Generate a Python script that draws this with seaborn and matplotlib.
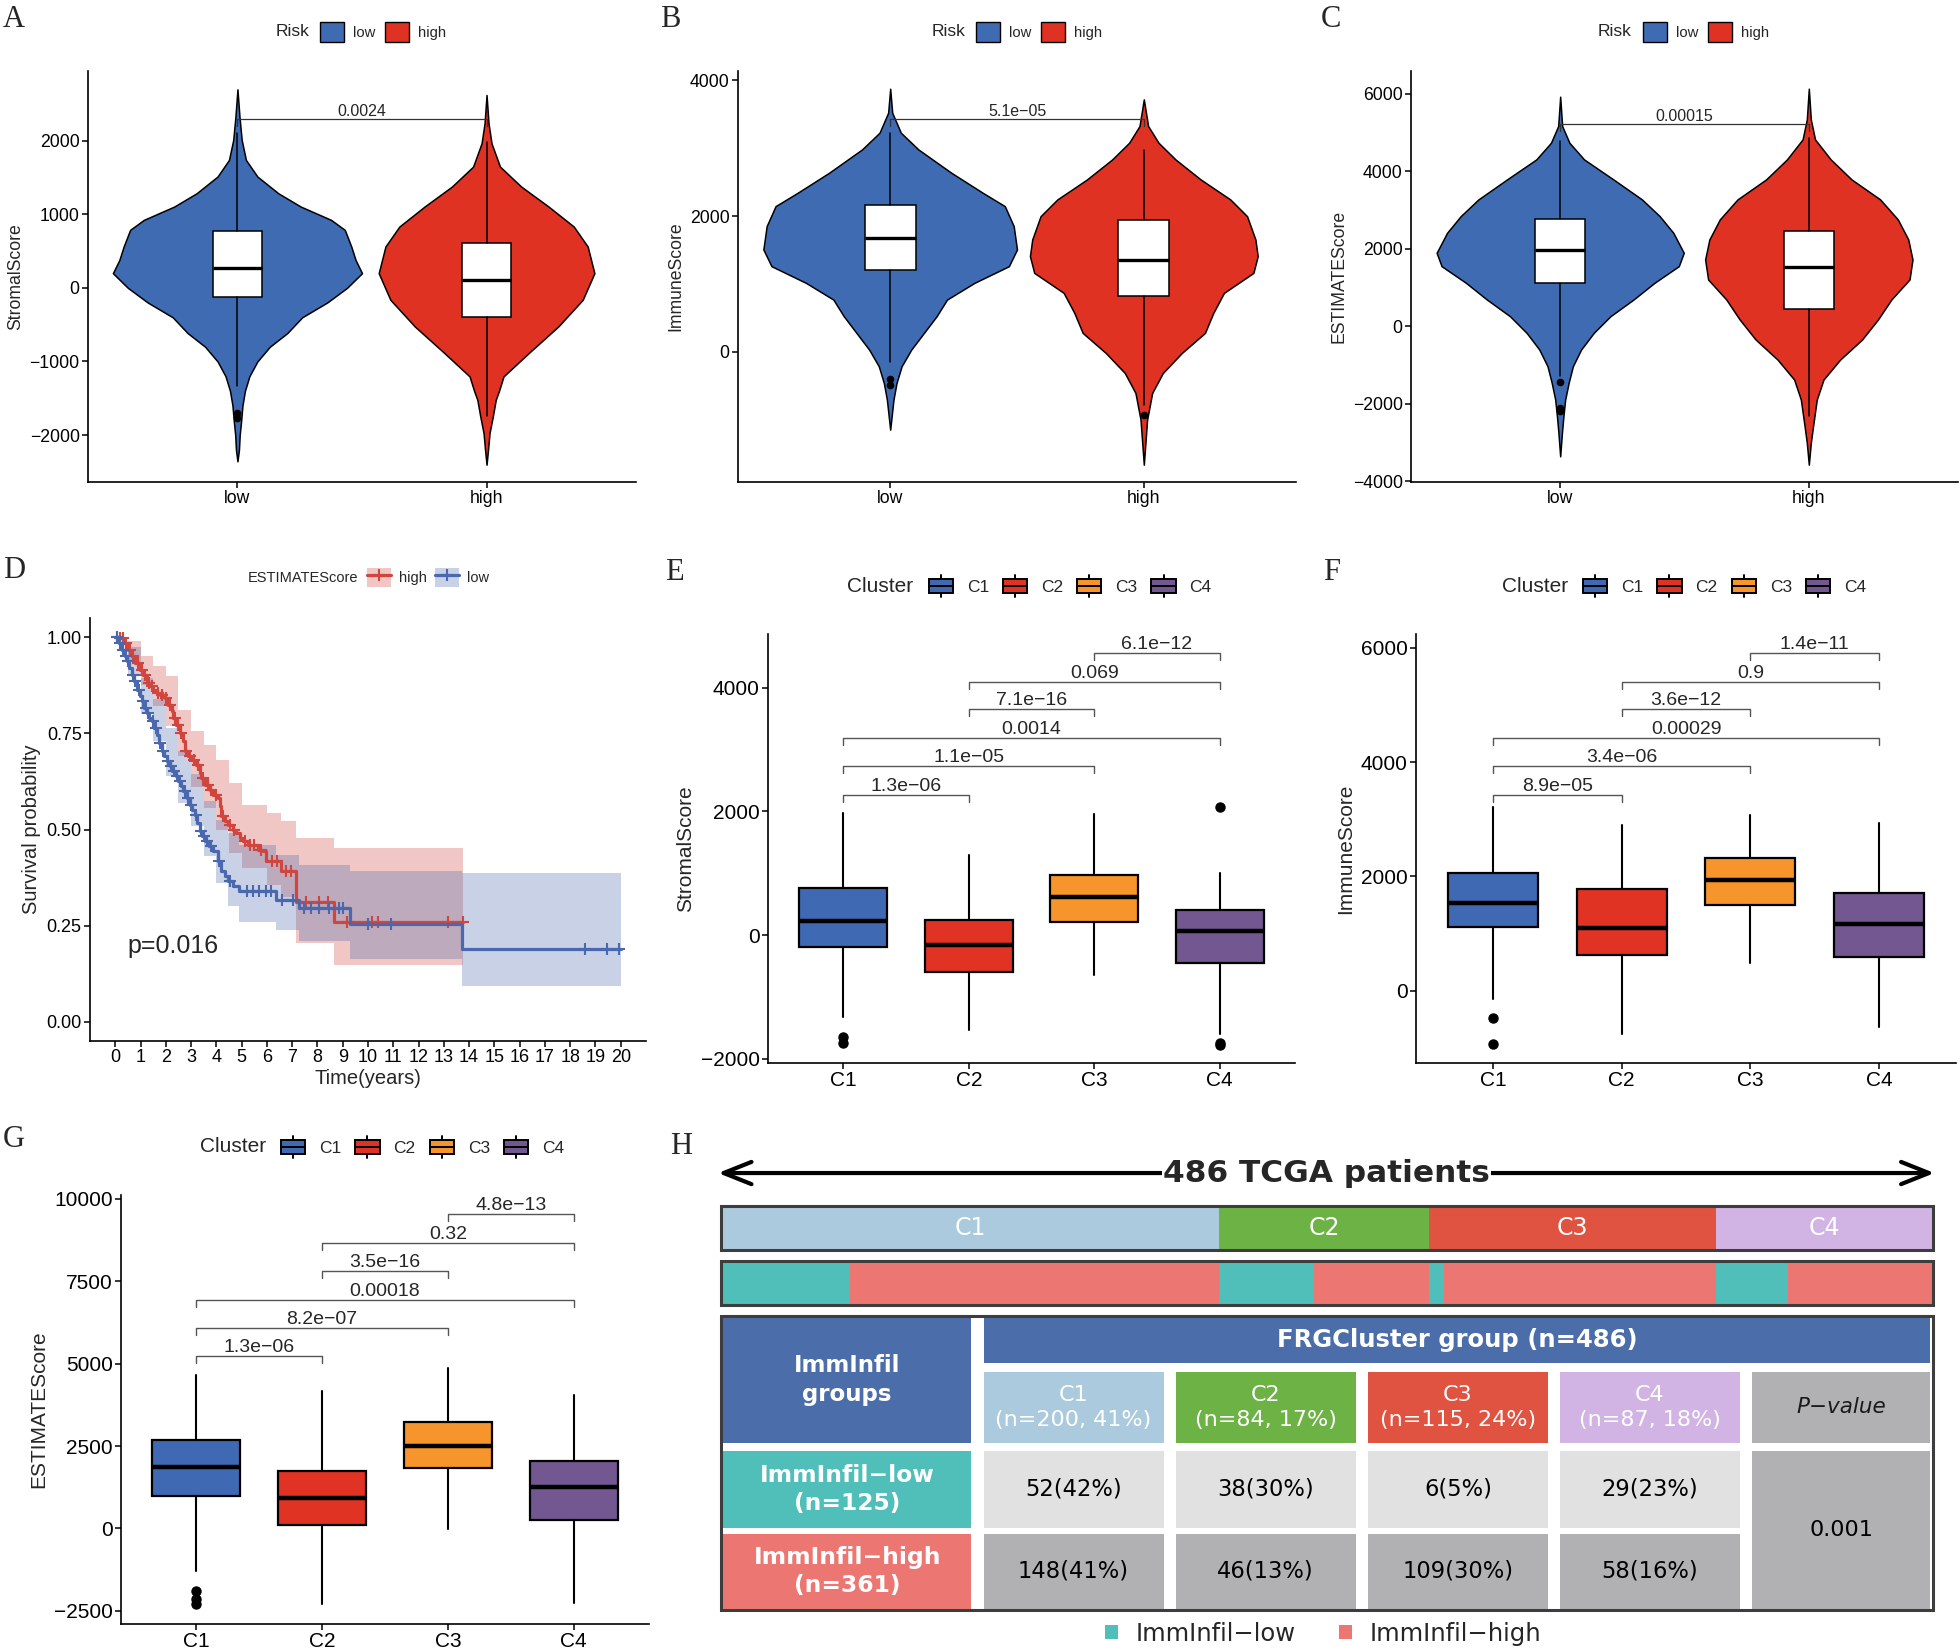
import numpy as np
import matplotlib
matplotlib.use('Agg')
import matplotlib.pyplot as plt
import seaborn as sns
from matplotlib.patches import Patch, Rectangle
from matplotlib.lines import Line2D
from matplotlib.legend_handler import HandlerBase, HandlerTuple

###########################################################################################
# data

# panels A-C: violin outlines (score, half width in category units) and box summaries
risk_groups = ['low', 'high']

stromal_low_y = [2697, 2330, 2009, 1738, 1512, 1285, 1104, 923, 787, 560, 380, 199, 0, -200, -400,
                 -615, -800, -1000, -1200, -1400, -1600, -1800, -2000, -2200, -2357]
stromal_low_w = [0, .008, .017, .034, .08, .164, .254, .376, .431, .457, .474, .5, .44, .36, .26,
                 .2, .13, .08, .048, .03, .02, .015, .009, .006, 0]
stromal_high_y = [2620, 2235, 1964, 1647, 1376, 1104, 833, 561, 199, -163, -525, -887, -1204, -1400,
                  -1521, -1750, -1973, -2200, -2403]
stromal_high_w = [0, .008, .02, .054, .139, .249, .35, .406, .433, .386, .288, .169, .068, .05,
                  .037, .025, .012, .006, 0]

immune_low_y = [3877, 3523, 3229, 2983, 2639, 2344, 2147, 1853, 1509, 1263, 1017, 771, 526, 280, 34,
                -211, -457, -703, -1145]
immune_low_w = [0, .008, .042, .111, .241, .365, .452, .487, .5, .468, .332, .224, .183, .133, .083,
                .045, .025, .013, 0]
immune_high_y = [3720, 3327, 3081, 2835, 2541, 2246, 2000, 1656, 1410, 1164, 870, 575, 280, -15,
                 -310, -604, -997, -1661]
immune_high_w = [0, .017, .058, .125, .224, .341, .407, .44, .449, .432, .316, .274, .241, .15,
                 .075, .033, .013, 0]

estimate_low_y = [5922, 5165, 4734, 4304, 3787, 3271, 2841, 2410, 1894, 1549, 1119, 689, 258, -172,
                  -603, -1033, -1463, -1894, -2324, -2755, -3357]
estimate_low_w = [0, .008, .037, .096, .214, .329, .4, .455, .497, .477, .379, .295, .202, .135,
                  .084, .051, .034, .02, .013, .007, 0]
estimate_high_y = [6129, 5337, 4820, 4304, 3787, 3271, 2755, 2238, 1721, 1205, 689, 172, -344, -861,
                   -1377, -1894, -2582, -3013, -3572]
estimate_high_w = [0, .008, .025, .088, .172, .287, .358, .4, .417, .405, .332, .278, .214, .126,
                   .059, .032, .017, .008, 0]

# [whisker low, q1, median, q3, whisker high]
stromal_low_box = [-1339, -118, 276, 778, 2100]
stromal_low_out = [-1701, -1769]
stromal_high_box = [-1747, -403, 109, 606, 1986]
stromal_high_out = []
immune_low_box = [-152, 1204, 1671, 2162, 3219]
immune_low_out = [-393, -491]
immune_high_box = [-776, 821, 1351, 1936, 2973]
immune_high_out = [-934]
estimate_low_box = [-1291, 1102, 1963, 2755, 4777]
estimate_low_out = [-1438, -2109, -2195]
estimate_high_box = [-2307, 448, 1515, 2453, 4863]
estimate_high_out = []

risk_pvals = ['0.0024', '5.1e\u221205', '0.00015']
risk_pval_y = [2290, 3435, 5225]

# panel D: Kaplan-Meier steps, confidence bands and censor times
high_time = [0, 0.13, 0.33, 0.52, 0.66, 0.79, 0.98, 1.11, 1.25, 1.38, 1.51, 1.64, 1.77, 1.97, 2.10,
             2.23, 2.29, 2.42, 2.56, 2.69, 2.75, 2.88, 3.01, 3.21, 3.34, 3.41, 3.54, 3.74, 3.87, 4.06,
             4.13, 4.19, 4.33, 4.46, 4.65, 4.78, 4.92, 5.05, 5.24, 5.64, 5.83, 5.96, 6.55, 7.14, 8.65,
             13.75]
high_surv = [1.0, 0.998, 0.985, 0.968, 0.950, 0.933, 0.916, 0.903, 0.881, 0.872, 0.864, 0.855, 0.851,
             0.842, 0.825, 0.807, 0.790, 0.773, 0.751, 0.729, 0.703, 0.690, 0.681, 0.668, 0.647, 0.634,
             0.616, 0.603, 0.590, 0.582, 0.560, 0.534, 0.521, 0.512, 0.499, 0.490, 0.477, 0.469, 0.460,
             0.447, 0.443, 0.417, 0.391, 0.3125, 0.260, 0.260]
low_time = [0, 0.13, 0.26, 0.37, 0.46, 0.56, 0.66, 0.76, 0.85, 0.96, 1.05, 1.15, 1.25, 1.35, 1.44,
            1.55, 1.64, 1.73, 1.83, 1.94, 2.03, 2.16, 2.25, 2.39, 2.49, 2.59, 2.69, 2.82, 2.95, 3.04,
            3.15, 3.25, 3.34, 3.43, 3.54, 3.70, 3.87, 4.06, 4.19, 4.33, 4.46, 4.65, 4.91, 6.36, 7.27,
            9.28, 13.71, 20.0]
low_surv = [1.0, 0.985, 0.968, 0.951, 0.938, 0.920, 0.903, 0.885, 0.864, 0.846, 0.833, 0.816, 0.803,
            0.790, 0.781, 0.764, 0.747, 0.725, 0.703, 0.690, 0.677, 0.664, 0.651, 0.638, 0.625, 0.612,
            0.599, 0.582, 0.564, 0.551, 0.538, 0.516, 0.495, 0.482, 0.469, 0.456, 0.443, 0.417, 0.391,
            0.378, 0.365, 0.352, 0.339, 0.317, 0.297, 0.253, 0.190, 0.190]
high_band_time = [0, 0.5, 1.0, 1.5, 2.0, 2.5, 3.0, 3.5, 4.0, 4.5, 5.0, 6.0, 6.55, 7.14, 8.65, 13.75]
high_band_lo = [1.0, 0.935, 0.875, 0.82, 0.77, 0.69, 0.61, 0.555, 0.5, 0.44, 0.4, 0.355, 0.325, 0.205,
                0.148, 0.148]
high_band_hi = [1.0, 0.99, 0.95, 0.925, 0.9, 0.81, 0.755, 0.72, 0.68, 0.62, 0.565, 0.543, 0.521, 0.477,
                0.451, 0.451]
low_band_time = [0, 0.5, 1.0, 1.5, 2.0, 2.5, 3.0, 3.5, 4.0, 4.46, 4.91, 6.36, 7.27, 9.28, 13.71, 20.0]
low_band_lo = [1.0, 0.9, 0.8, 0.73, 0.64, 0.57, 0.51, 0.43, 0.36, 0.3, 0.26, 0.239, 0.21, 0.162, 0.094,
               0.094]
low_band_hi = [1.0, 0.975, 0.895, 0.84, 0.765, 0.705, 0.645, 0.575, 0.525, 0.49, 0.46, 0.434, 0.408,
               0.393, 0.387, 0.387]
high_censor = [0.08, 0.2, 0.3, 0.42, 0.6, 0.72, 0.88, 1.05, 1.18, 1.32, 1.45, 1.7, 1.85, 2.0, 2.15,
               2.35, 2.5, 2.62, 2.8, 2.95, 3.1, 3.28, 3.48, 3.65, 3.8, 4.0, 4.25, 4.55, 4.7, 5.15, 5.35,
               5.5, 5.75, 6.2, 6.4, 6.75, 6.95, 7.55, 8.05, 8.4, 9.15, 10.14, 10.38, 13.15, 13.75]
low_censor = [0.05, 0.18, 0.32, 0.42, 0.52, 0.7, 0.8, 0.92, 1.1, 1.2, 1.3, 1.5, 1.6, 1.78, 1.9, 2.08,
              2.2, 2.32, 2.45, 2.55, 2.75, 2.88, 3.0, 3.2, 3.38, 3.5, 3.62, 3.8, 4.1, 4.55, 5.2, 5.45,
              5.7, 5.95, 6.15, 6.6, 7.05, 7.45, 7.75, 8.05, 8.45, 8.85, 9.0, 10.0, 10.9, 18.6, 19.47,
              19.95]
km_pvalue = 'p=0.016'

# panels E-G: cluster boxplots
cluster_names = ['C1', 'C2', 'C3', 'C4']
stromal_cluster_box = [[-1330, -190, 230, 768, 1980], [-1541, -589, -156, 242, 1300],
                       [-652, 214, 618, 975, 1962], [-1600, -444, 58, 398, 1010]]
stromal_cluster_out = [[-1645, -1750], [], [], [2078, -1740, -1780]]
immune_cluster_box = [[-144, 1113, 1531, 2063, 3219], [-750, 625, 1094, 1775, 2906],
                      [488, 1500, 1938, 2325, 3081], [-638, 588, 1175, 1719, 2938]]
immune_cluster_out = [[-481, -925], [], [], []]
estimate_cluster_box = [[-1297, 973, 1851, 2699, 4665], [-2291, 115, 910, 1747, 4174],
                        [-10, 1841, 2500, 3232, 4874], [-2270, 262, 1245, 2061, 4038]]
estimate_cluster_out = [[-1893, -2134, -2291], [], [], []]

bracket_pairs = [(0, 1), (0, 2), (0, 3), (1, 2), (1, 3), (2, 3)]
stromal_brk_y = [2268, 2730, 3186, 3648, 4098, 4560]
stromal_brk_p = ['1.3e\u221206', '1.1e\u221205', '0.0014', '7.1e\u221216', '0.069', '6.1e\u221212']
immune_brk_y = [3425, 3925, 4419, 4919, 5406, 5906]
immune_brk_p = ['8.9e\u221205', '3.4e\u221206', '0.00029', '3.6e\u221212', '0.9', '1.4e\u221211']
estimate_brk_y = [5220, 6077, 6935, 7803, 8661, 9540]
estimate_brk_p = ['1.3e\u221206', '8.2e\u221207', '0.00018', '3.5e\u221216', '0.32', '4.8e\u221213']

# panel H: cluster x immune infiltration table
cluster_n = [200, 84, 115, 87]
cluster_pct = [41, 17, 24, 18]
imm_low_n = [52, 38, 6, 29]
imm_low_pct = [42, 30, 5, 23]
imm_high_n = [148, 46, 109, 58]
imm_high_pct = [41, 13, 30, 16]
imm_low_total = 125
imm_high_total = 361
table_pvalue = '0.001'

###########################################################################################
# styles

risk_colors = ['#3F6BB3', '#E03222']
km_colors = {'high': '#D0463F', 'low': '#4A68AD'}
cluster_colors = ['#3F6AB3', '#E03323', '#F6952B', '#735790']
strip_colors = ['#ABCADD', '#6CB245', '#E05340', '#D2B4E4']
teal, salmon = '#50BEB9', '#EC7772'
head_blue = '#4B6DAA'
light_gray, mid_gray = '#E1E1E1', '#B1B0B2'

W, H = 1960, 1652

sns.set_theme(style='ticks')
plt.rcParams['font.family'] = ['Liberation Sans', 'DejaVu Sans']
plt.rcParams['axes.unicode_minus'] = True


def rect(x0, y0, x1, y1):
    return [x0 / W, 1 - y1 / H, (x1 - x0) / W, (y1 - y0) / H]


def fy(y):
    return 1 - y / H


def style_axes(ax, fs):
    sns.despine(ax=ax)
    for sp in ['left', 'bottom']:
        ax.spines[sp].set_linewidth(1.2)
        ax.spines[sp].set_color('black')
    ax.tick_params(axis='both', direction='out', length=4, width=1.1, color='black',
                   labelsize=fs, labelcolor='black', pad=2)
    ax.grid(False)
    ax.set_facecolor('white')


def box_stats(five, out):
    return dict(whislo=five[0], q1=five[1], med=five[2], q3=five[3], whishi=five[4],
                fliers=np.asarray(out, dtype=float))


class BoxKey(HandlerBase):
    def create_artists(self, legend, orig_handle, xdescent, ydescent, width, height, fontsize, trans):
        x0, y0 = -xdescent, -ydescent
        fc = orig_handle.get_facecolor()
        box = Rectangle((x0, y0 + 0.17 * height), width, 0.66 * height, facecolor=fc,
                        edgecolor='black', lw=1.4, transform=trans)
        med = Line2D([x0, x0 + width], [y0 + 0.5 * height] * 2, color='black', lw=1.4, transform=trans)
        cx = x0 + width / 2
        top = Line2D([cx, cx], [y0 + 0.83 * height, y0 + 1.03 * height], color='black', lw=1.4,
                     transform=trans)
        bot = Line2D([cx, cx], [y0 - 0.03 * height, y0 + 0.17 * height], color='black', lw=1.4,
                     transform=trans)
        return [box, med, top, bot]


def violin_panel(ax, profiles, boxes, outs, ylim, yticks, ylabel, pval, pval_y):
    for i, (vy, vw) in enumerate(profiles):
        vy = np.asarray(vy, dtype=float)
        vw = np.asarray(vw, dtype=float)
        ax.fill_betweenx(vy, i - vw, i + vw, facecolor=risk_colors[i], edgecolor='black',
                         linewidth=1.1, zorder=1)
    stats = [box_stats(b, o) for b, o in zip(boxes, outs)]
    ax.bxp(stats, positions=[0, 1], widths=0.2, patch_artist=True, showcaps=False,
           boxprops=dict(facecolor='white', edgecolor='black', linewidth=1.1),
           medianprops=dict(color='black', linewidth=2.4),
           whiskerprops=dict(color='black', linewidth=1.1),
           flierprops=dict(marker='o', markerfacecolor='black', markeredgecolor='black', markersize=4.5),
           manage_ticks=False, zorder=2)
    tip = 7 / 411 * (ylim[1] - ylim[0])
    ax.plot([0, 0, 1, 1], [pval_y - tip, pval_y, pval_y, pval_y - tip], color='#333333', lw=0.9, zorder=3)
    ax.text(0.5, pval_y, pval, ha='center', va='bottom', fontsize=11.5, zorder=3)
    ax.set_xlim(-0.6, 1.6)
    ax.set_ylim(*ylim)
    ax.set_xticks([0, 1])
    ax.set_xticklabels(risk_groups)
    ax.set_yticks(yticks)
    ax.set_ylabel(ylabel, fontsize=12.7, labelpad=4)
    style_axes(ax, 12.7)


def cluster_panel(ax, boxes, outs, ylim, yticks, ylabel, brk_y, brk_p, ax_h_px):
    stats = [box_stats(b, o) for b, o in zip(boxes, outs)]
    bp = ax.bxp(stats, positions=range(4), widths=0.7, patch_artist=True, showcaps=False,
                boxprops=dict(edgecolor='black', linewidth=1.6),
                medianprops=dict(color='black', linewidth=3.2),
                whiskerprops=dict(color='black', linewidth=1.5),
                flierprops=dict(marker='o', markerfacecolor='black', markeredgecolor='black',
                                markersize=6.5),
                manage_ticks=False)
    for patch, col in zip(bp['boxes'], cluster_colors):
        patch.set_facecolor(col)
    tip = 7 / ax_h_px * (ylim[1] - ylim[0])
    for (i, j), y, lab in zip(bracket_pairs, brk_y, brk_p):
        ax.plot([i, i, j, j], [y - tip, y, y, y - tip], color='#555555', lw=1.0)
        ax.text((i + j) / 2, y, lab, ha='center', va='bottom', fontsize=14)
    ax.set_xlim(-0.6, 3.6)
    ax.set_ylim(*ylim)
    ax.set_xticks(range(4))
    ax.set_xticklabels(cluster_names)
    ax.set_yticks(yticks)
    ax.set_ylabel(ylabel, fontsize=15, labelpad=4)
    style_axes(ax, 15)


def risk_legend(fig, title_x, key_x, y):
    fig.text(title_x / W, fy(y), 'Risk', fontsize=12.5, va='center', ha='left')
    handles = [Patch(facecolor=c, edgecolor='black', linewidth=1.0) for c in risk_colors]
    fig.legend(handles, risk_groups, loc='center left', bbox_to_anchor=(key_x / W, fy(y)), ncol=2,
               frameon=False, fontsize=10.7, handlelength=1.6, handleheight=1.6, handletextpad=0.6,
               columnspacing=0.7, borderpad=0, borderaxespad=0)


def cluster_legend(fig, title_x, key_x, y):
    fig.text(title_x / W, fy(y), 'Cluster', fontsize=15, va='center', ha='left')
    handles = [Patch(facecolor=c, edgecolor='black') for c in cluster_colors]
    fig.legend(handles, cluster_names, loc='center left', bbox_to_anchor=(key_x / W, fy(y)), ncol=4,
               frameon=False, fontsize=12.5, handlelength=1.4, handleheight=1.45, handletextpad=0.8,
               columnspacing=0.8, borderpad=0, borderaxespad=0, handler_map={Patch: BoxKey()})


###########################################################################################
# figure

fig = plt.figure(figsize=(19.6, 16.52), dpi=100)
fig.patch.set_facecolor('white')

# A-C
ax_a = fig.add_axes(rect(88, 71, 636, 482))
violin_panel(ax_a, [(stromal_low_y, stromal_low_w), (stromal_high_y, stromal_high_w)],
             [stromal_low_box, stromal_high_box], [stromal_low_out, stromal_high_out],
             (-2638, 2946), [-2000, -1000, 0, 1000, 2000], 'StromalScore', risk_pvals[0], risk_pval_y[0])
ax_b = fig.add_axes(rect(738, 71, 1296, 482))
violin_panel(ax_b, [(immune_low_y, immune_low_w), (immune_high_y, immune_high_w)],
             [immune_low_box, immune_high_box], [immune_low_out, immune_high_out],
             (-1916, 4138), [0, 2000, 4000], 'ImmuneScore', risk_pvals[1], risk_pval_y[1])
ax_c = fig.add_axes(rect(1411, 71, 1958, 482))
violin_panel(ax_c, [(estimate_low_y, estimate_low_w), (estimate_high_y, estimate_high_w)],
             [estimate_low_box, estimate_high_box], [estimate_low_out, estimate_high_out],
             (-4020, 6585), [-4000, -2000, 0, 2000, 4000, 6000], 'ESTIMATEScore', risk_pvals[2],
             risk_pval_y[2])
risk_legend(fig, 276, 320, 32)
risk_legend(fig, 932, 976, 32)
risk_legend(fig, 1598, 1643, 32)

# D
ax_d = fig.add_axes(rect(90, 618, 646, 1041))
km_sets = [('high', high_time, high_surv, high_band_time, high_band_lo, high_band_hi, high_censor),
           ('low', low_time, low_surv, low_band_time, low_band_lo, low_band_hi, low_censor)]
for name, t, s, bt, blo, bhi, cens in km_sets:
    col = km_colors[name]
    ax_d.fill_between(bt, blo, bhi, step='post', color=col, alpha=0.3, lw=0)
for name, t, s, bt, blo, bhi, cens in km_sets:
    col = km_colors[name]
    sns.lineplot(x=t, y=s, estimator=None, sort=False, drawstyle='steps-post', color=col,
                 linewidth=2.3, ax=ax_d)
    idx = np.searchsorted(np.asarray(t), np.asarray(cens), side='right') - 1
    ax_d.plot(cens, np.asarray(s)[idx], linestyle='none', marker='+', color=col, markersize=9,
              markeredgewidth=1.5)
ax_d.text(0.47, 0.198, km_pvalue, fontsize=18, ha='left', va='center')
ax_d.set_xlim(-1, 21)
ax_d.set_ylim(-0.05, 1.05)
ax_d.set_xticks(range(0, 21))
ax_d.set_yticks([0, 0.25, 0.5, 0.75, 1.0])
ax_d.set_yticklabels(['0.00', '0.25', '0.50', '0.75', '1.00'])
ax_d.set_xlabel('Time(years)', fontsize=14.5, labelpad=2)
ax_d.set_ylabel('Survival probability', fontsize=14.5, labelpad=4)
style_axes(ax_d, 13)
fig.text(247.5 / W, fy(577.6), 'ESTIMATEScore', fontsize=10.5, va='center', ha='left')
km_handles = [(Patch(facecolor=km_colors[k], alpha=0.3, edgecolor='none'),
               Line2D([], [], color=km_colors[k], lw=2.3, marker='+', markersize=9, markeredgewidth=1.5))
              for k in ['high', 'low']]
fig.legend(km_handles, ['high', 'low'], loc='center left', bbox_to_anchor=(367 / W, fy(577.6)), ncol=2,
           frameon=False, fontsize=10.5, handlelength=1.62, handleheight=1.58, handletextpad=0.55,
           columnspacing=0.6, borderpad=0, borderaxespad=0,
           handler_map={tuple: HandlerTuple(ndivide=1, pad=0)})

# E-G
ax_e = fig.add_axes(rect(768, 634, 1295, 1063))
cluster_panel(ax_e, stromal_cluster_box, stromal_cluster_out, (-2068, 4867), [-2000, 0, 2000, 4000],
              'StromalScore', stromal_brk_y, stromal_brk_p, 429)
cluster_legend(fig, 847, 928.6, 586)
ax_f = fig.add_axes(rect(1416, 634, 1956, 1063))
cluster_panel(ax_f, immune_cluster_box, immune_cluster_out, (-1261, 6238), [0, 2000, 4000, 6000],
              'ImmuneScore', immune_brk_y, immune_brk_p, 429)
cluster_legend(fig, 1502, 1583, 586)
ax_g = fig.add_axes(rect(121, 1195, 649, 1624))
cluster_panel(ax_g, estimate_cluster_box, estimate_cluster_out, (-2897, 10115),
              [-2500, 0, 2500, 5000, 7500, 10000], 'ESTIMATEScore', estimate_brk_y, estimate_brk_p, 429)
cluster_legend(fig, 200, 281, 1147)

# H: strips
hfont = 'DejaVu Sans'
total_n = sum(cluster_n)
ax_s = fig.add_axes(rect(720.5, 1206, 1932.8, 1305.3))
bar_h = 0.812
left_c = np.cumsum([0] + cluster_n[:-1])
ax_s.barh(0, cluster_n, left=left_c, height=bar_h, color=strip_colors, lw=0)
for name, l, n in zip(cluster_names, left_c, cluster_n):
    ax_s.text(l + n / 2, 0, name, color='white', ha='center', va='center', fontsize=17, family=hfont)
seg_w = [v for pair in zip(imm_low_n, imm_high_n) for v in pair]
seg_left = np.cumsum([0] + seg_w[:-1])
ax_s.barh(1, seg_w, left=seg_left, height=bar_h, color=[teal, salmon] * len(cluster_n), lw=0)
ax_s.barh([0, 1], [total_n, total_n], height=bar_h, fill=False, edgecolor='#3d3d3d', lw=2.2,
          clip_on=False)
ax_s.set_xlim(0, total_n)
ax_s.set_ylim(1 + bar_h / 2, -bar_h / 2)
ax_s.axis('off')
ax_s.annotate('', xy=(1.0014, 1.332), xytext=(-0.002, 1.332), xycoords='axes fraction',
              arrowprops=dict(arrowstyle='<->,head_length=1.0,head_width=0.4', lw=3, color='black',
                              mutation_scale=20, shrinkA=0, shrinkB=0))
ax_s.text(0.5, 1.332, f'{total_n} TCGA patients', transform=ax_s.transAxes, ha='center', va='center',
          fontsize=22.5, fontweight='bold', family=hfont,
          bbox=dict(facecolor='white', edgecolor='none', pad=1))

# H: table
ax_t = fig.add_axes(rect(720.5, 1315.7, 1932.8, 1610.2))
ax_t.set_xlim(0, 1)
ax_t.set_ylim(1, 0)
ax_t.axis('off')


def cell(x0, y0, x1, y1, color, text='', tcolor='black', weight='normal', style='normal', size=15):
    ax_t.add_patch(Rectangle((x0, y0), x1 - x0, y1 - y0, facecolor=color, edgecolor='none'))
    if text:
        ax_t.text((x0 + x1) / 2, (y0 + y1) / 2, text, ha='center', va='center', color=tcolor,
                  fontsize=size, fontweight=weight, fontstyle=style, family=hfont, linespacing=1.3)


col_x0 = [0.217, 0.3755, 0.534, 0.6925, 0.851]
col_w = 0.1485
row_head = (0.004, 0.162)
row_sub = (0.19, 0.433)
row_low = (0.46, 0.72)
row_high = (0.74, 0.997)

cell(0.002, 0.004, 0.207, row_sub[1], head_blue, 'ImmInfil\ngroups', 'white', 'bold', size=16.5)
cell(col_x0[0], row_head[0], 0.998, row_head[1], head_blue, f'FRGCluster group (n={total_n})', 'white',
     'bold', size=17.5)
cell(0.002, row_low[0], 0.207, row_low[1], teal, f'ImmInfil\u2212low\n(n={imm_low_total})', 'white',
     'bold', size=16.8)
cell(0.002, row_high[0], 0.207, row_high[1], salmon, f'ImmInfil\u2212high\n(n={imm_high_total})',
     'white', 'bold', size=16.8)
for k in range(4):
    x0 = col_x0[k]
    cell(x0, row_sub[0], x0 + col_w, row_sub[1], strip_colors[k],
         f'{cluster_names[k]}\n(n={cluster_n[k]}, {cluster_pct[k]}%)', 'white', size=16)
    cell(x0, row_low[0], x0 + col_w, row_low[1], light_gray, f'{imm_low_n[k]}({imm_low_pct[k]}%)',
         size=16.3)
    cell(x0, row_high[0], x0 + col_w, row_high[1], mid_gray, f'{imm_high_n[k]}({imm_high_pct[k]}%)',
         size=16.3)
cell(col_x0[4], row_sub[0], 0.998, row_sub[1], mid_gray, 'P\u2212value', '#1a1a1a', style='italic',
     size=15.5)
cell(col_x0[4], row_low[0], 0.998, row_high[1], mid_gray, table_pvalue, size=16)
ax_t.add_patch(Rectangle((0, 0), 1, 1, fill=False, edgecolor='#3d3d3d', lw=2.2, clip_on=False))

h_handles = [Patch(facecolor=teal, edgecolor='none'), Patch(facecolor=salmon, edgecolor='none')]
fig.legend(h_handles, ['ImmInfil\u2212low', 'ImmInfil\u2212high'], loc='center',
           bbox_to_anchor=(1323 / W, fy(1633.7)), ncol=2, frameon=False,
           prop=dict(family=hfont, size=17.5), handlelength=0.55, handleheight=0.55, handletextpad=0.7,
           columnspacing=1.8, borderpad=0, borderaxespad=0)

# panel letters
letters = {'A': (3, 27), 'B': (660, 27), 'C': (1321, 27), 'D': (3, 578), 'E': (665, 580),
           'F': (1323, 580), 'G': (3, 1147), 'H': (670, 1154)}
for lab, (lx, ly) in letters.items():
    fig.text(lx / W, fy(ly), lab, fontsize=22, family='Liberation Serif', ha='left', va='baseline')

fig.savefig('out.png', dpi=100, facecolor='white')
